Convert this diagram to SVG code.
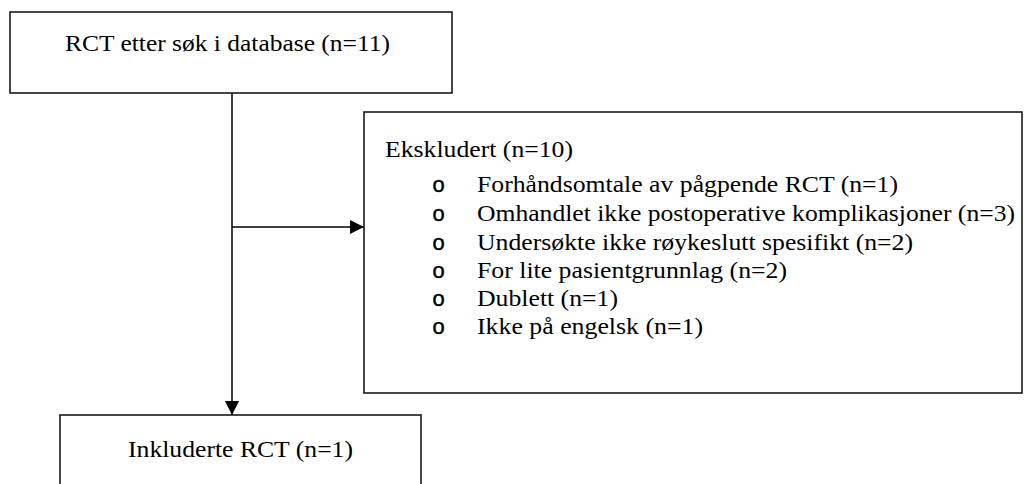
<svg xmlns="http://www.w3.org/2000/svg" width="1031" height="484" viewBox="0 0 1031 484">
<style>
.box{fill:#fff;stroke:#1a1a1a;stroke-width:1.6}
.t{font-family:'Liberation Serif','Times New Roman',Tinos,'DejaVu Serif',serif;font-size:23.5px;fill:#000}
.b{font-family:'Liberation Mono','Courier New',Cousine,'DejaVu Sans Mono',monospace;font-size:22px;fill:#000;stroke:#000;stroke-width:0.4}
.ln{stroke:#000;fill:none}
</style>
<defs>
<marker id="ah" viewBox="0 0 14 14" refX="14" refY="7" markerWidth="14" markerHeight="14" markerUnits="userSpaceOnUse" orient="auto">
<path d="M0,0 L14,7 L0,14 Z" fill="#000"/>
</marker>
</defs>
<rect width="1031" height="484" fill="#fff"/>
<g id="connectors">
<line class="ln" x1="232" y1="93" x2="232" y2="415" stroke-width="1.5" marker-end="url(#ah)"/>
<line class="ln" x1="232" y1="227" x2="364" y2="227" stroke-width="1.5" stroke="#333" marker-end="url(#ah)"/>
</g>
<g id="node-search">
<rect class="box" x="10" y="12" width="442" height="81"/>
<text class="t" x="65" y="51" textLength="325" lengthAdjust="spacingAndGlyphs">RCT etter søk i database (n=11)</text>
</g>
<g id="node-excluded">
<rect class="box" x="364" y="112" width="658" height="281"/>
<text class="t" x="385" y="157" textLength="188" lengthAdjust="spacingAndGlyphs">Ekskludert (n=10)</text>
<text class="b" x="432" y="192">o</text>
<text class="t" x="477" y="192" textLength="421" lengthAdjust="spacingAndGlyphs">Forhåndsomtale av pågpende RCT (n=1)</text>
<text class="b" x="432" y="221">o</text>
<text class="t" x="477" y="221" textLength="538" lengthAdjust="spacingAndGlyphs">Omhandlet ikke postoperative komplikasjoner (n=3)</text>
<text class="b" x="432" y="250">o</text>
<text class="t" x="477" y="250" textLength="436" lengthAdjust="spacingAndGlyphs">Undersøkte ikke røykeslutt spesifikt (n=2)</text>
<text class="b" x="432" y="278">o</text>
<text class="t" x="477" y="278" textLength="310" lengthAdjust="spacingAndGlyphs">For lite pasientgrunnlag (n=2)</text>
<text class="b" x="432" y="306">o</text>
<text class="t" x="477" y="306" textLength="141" lengthAdjust="spacingAndGlyphs">Dublett (n=1)</text>
<text class="b" x="432" y="334">o</text>
<text class="t" x="477" y="334" textLength="226" lengthAdjust="spacingAndGlyphs">Ikke på engelsk (n=1)</text>
</g>
<g id="node-included">
<rect class="box" x="60" y="415" width="361" height="80"/>
<text class="t" x="128" y="457" textLength="225" lengthAdjust="spacingAndGlyphs">Inkluderte RCT (n=1)</text>
</g>
</svg>
